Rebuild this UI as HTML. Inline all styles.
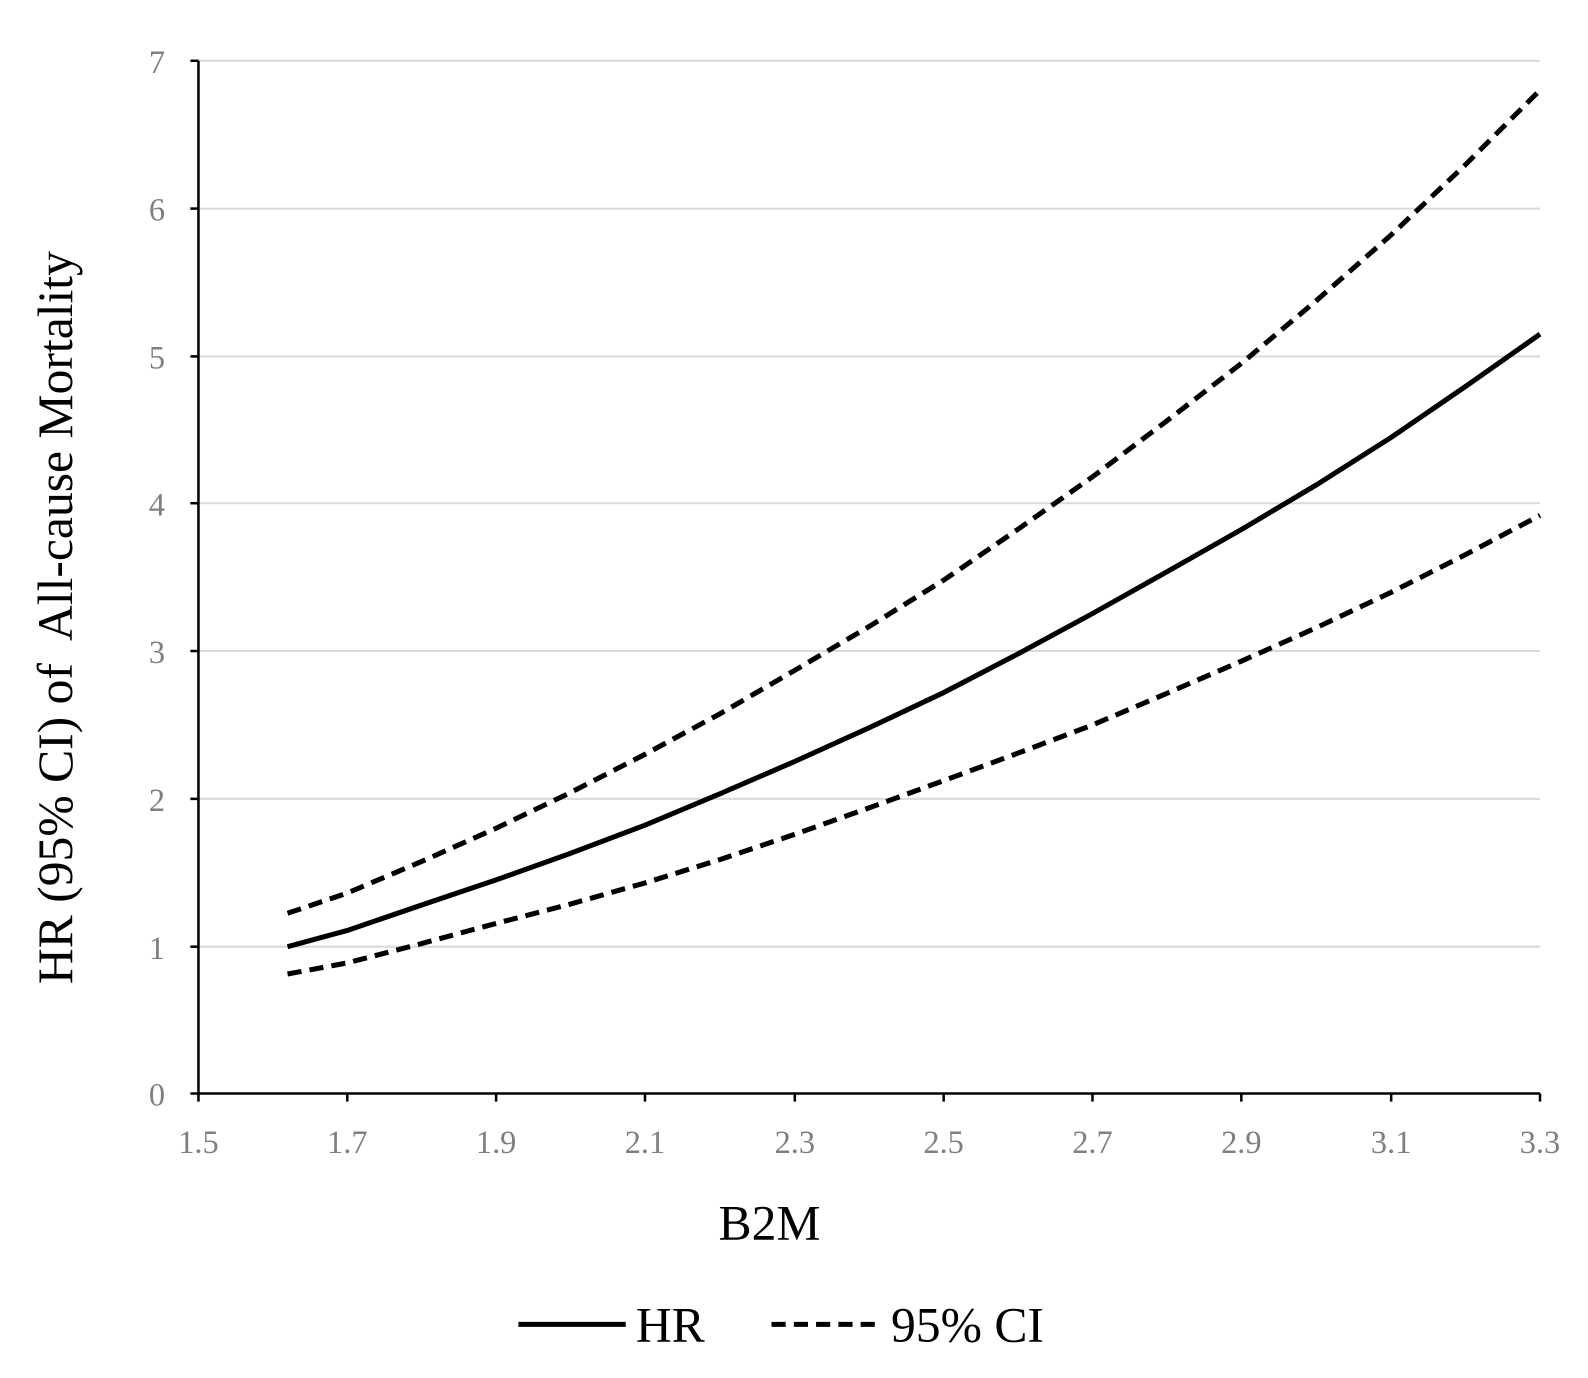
<!DOCTYPE html>
<html><head><style>body{margin:0;background:#fff}</style></head><body>
<svg width="1588" height="1373" xmlns="http://www.w3.org/2000/svg" font-family="Liberation Serif, serif">
<rect width="1588" height="1373" fill="#fff"/>
<g transform="scale(1.0125)">
<g stroke="#d9d9d9" stroke-width="2">
<line x1="196" x2="1521" y1="60" y2="60"/><line x1="196" x2="1521" y1="206" y2="206"/><line x1="196" x2="1521" y1="352" y2="352"/><line x1="196" x2="1521" y1="497" y2="497"/><line x1="196" x2="1521" y1="643" y2="643"/><line x1="196" x2="1521" y1="789" y2="789"/><line x1="196" x2="1521" y1="935" y2="935"/>
</g>
<g stroke="#000" stroke-width="2.5">
<line x1="196" y1="60" x2="196" y2="1080"/><line x1="196" y1="1080" x2="1521" y2="1080"/>
<line x1="188" x2="196" y1="60" y2="60"/><line x1="188" x2="196" y1="206" y2="206"/><line x1="188" x2="196" y1="352" y2="352"/><line x1="188" x2="196" y1="497" y2="497"/><line x1="188" x2="196" y1="643" y2="643"/><line x1="188" x2="196" y1="789" y2="789"/><line x1="188" x2="196" y1="935" y2="935"/><line x1="188" x2="196" y1="1080" y2="1080"/>
<line x1="196" x2="196" y1="1080" y2="1088"/><line x1="343" x2="343" y1="1080" y2="1088"/><line x1="490" x2="490" y1="1080" y2="1088"/><line x1="637" x2="637" y1="1080" y2="1088"/><line x1="785" x2="785" y1="1080" y2="1088"/><line x1="932" x2="932" y1="1080" y2="1088"/><line x1="1079" x2="1079" y1="1080" y2="1088"/><line x1="1226" x2="1226" y1="1080" y2="1088"/><line x1="1374" x2="1374" y1="1080" y2="1088"/><line x1="1521" x2="1521" y1="1080" y2="1088"/>
</g>
<g fill="#7f7f7f" font-size="32" text-anchor="end">
<text x="163" y="72">7</text><text x="163" y="218">6</text><text x="163" y="364">5</text><text x="163" y="509">4</text><text x="163" y="655">3</text><text x="163" y="801">2</text><text x="163" y="947">1</text><text x="163" y="1092">0</text>
</g>
<g fill="#7f7f7f" font-size="32" text-anchor="middle">
<text x="196" y="1139">1.5</text><text x="343" y="1139">1.7</text><text x="490" y="1139">1.9</text><text x="637" y="1139">2.1</text><text x="785" y="1139">2.3</text><text x="932" y="1139">2.5</text><text x="1079" y="1139">2.7</text><text x="1226" y="1139">2.9</text><text x="1374" y="1139">3.1</text><text x="1521" y="1139">3.3</text>
</g>
<g fill="none" stroke="#000" stroke-width="5">
<polyline points="284,935 343,919 416,894 490,869 563,843 637,815 711,784 785,752 858,719 932,684 1005,646 1079,606 1152,565 1226,523 1300,479 1374,432 1447,382 1521,330"/>
<polyline stroke-dasharray="14,8" points="284,902 343,882 416,851 490,818 563,783 637,745 711,705 785,662 858,619 932,573 1005,523 1079,471 1152,416 1226,359 1300,297 1374,232 1447,163 1521,89"/>
<polyline stroke-dasharray="14,8" points="284,962 343,951 416,932 490,912 563,893 637,872 711,849 785,824 858,798 932,771 1005,744 1079,716 1152,685 1226,653 1300,620 1374,585 1447,548 1521,509"/>
<line x1="512" x2="618" y1="1308" y2="1308"/>
<line x1="762" x2="870" y1="1308" y2="1308" stroke-dasharray="14,8"/>
</g>
<text x="760" y="1224" font-size="49" text-anchor="middle">B2M</text>
<text transform="translate(71,610) rotate(-90)" font-size="49" text-anchor="middle" xml:space="preserve">HR (95% CI) of  All-cause Mortality</text>
<text x="628" y="1325" font-size="49">HR</text>
<text x="880" y="1325" font-size="49">95% CI</text>
</g>
</svg>
</body></html>
